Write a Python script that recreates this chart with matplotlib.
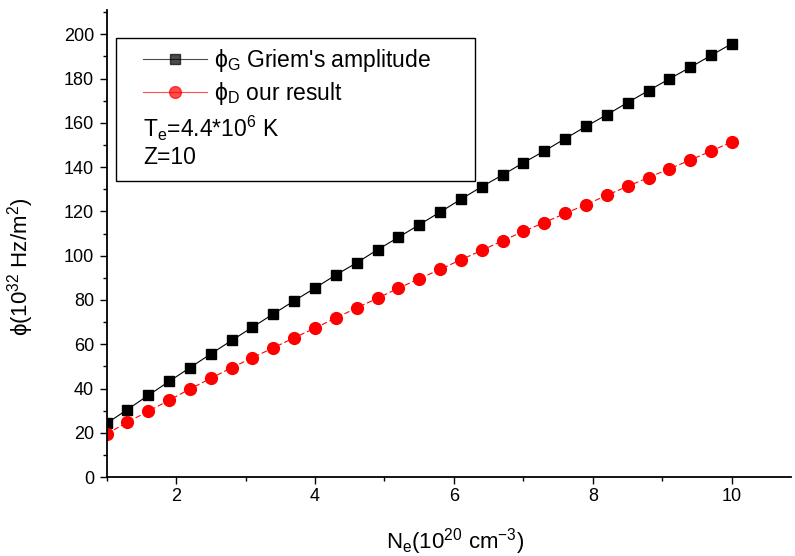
import matplotlib
matplotlib.use("Agg")
import matplotlib.pyplot as plt
from matplotlib.patches import Rectangle
from matplotlib.ticker import MultipleLocator

plt.rcParams['font.family'] = ['Liberation Sans', 'DejaVu Sans']
plt.rcParams['mathtext.fontset'] = 'custom'
plt.rcParams['mathtext.rm'] = 'Liberation Sans'
plt.rcParams['mathtext.it'] = 'Liberation Sans:italic'
plt.rcParams['mathtext.fallback'] = 'stixsans'

# Electron density (10^20 cm^-3)
ne = [1.0, 1.3, 1.6, 1.9, 2.2, 2.5, 2.8, 3.1, 3.4, 3.7, 4.0, 4.3, 4.6, 4.9,
      5.2, 5.5, 5.8, 6.1, 6.4, 6.7, 7.0, 7.3, 7.6, 7.9, 8.2, 8.5, 8.8, 9.1,
      9.4, 9.7, 10.0]
# Griem's amplitude (10^32 Hz/m^2)
phi_griem = [24.2, 30.5, 36.9, 43.2, 49.4, 55.6, 61.7, 67.7, 73.7, 79.6,
             85.4, 91.3, 96.8, 102.7, 108.3, 114.0, 119.7, 125.5, 131.2,
             136.5, 142.0, 147.3, 152.9, 158.4, 163.7, 169.2, 174.6, 179.9,
             185.1, 190.5, 195.8]
# Present calculation (10^32 Hz/m^2)
phi_ours = [19.4, 24.8, 29.7, 34.7, 39.8, 44.6, 49.4, 53.9, 58.4, 62.9,
            67.3, 71.9, 76.4, 80.8, 85.3, 89.6, 93.8, 98.2, 102.4, 106.8,
            111.0, 115.0, 119.1, 123.1, 127.3, 131.4, 135.3, 139.3, 143.2,
            147.3, 151.4]

fig = plt.figure(figsize=(7.95, 5.56), dpi=100)
ax = fig.add_axes([0.134, 0.142, 0.861, 0.840])

ax.plot(ne, phi_griem, color='black', lw=0.8, marker='s', ms=7.5,
        mec='black', mfc='black', label=r'$\mathregular{\phi_G}$ Griem' + "'s amplitude")
ax.plot(ne, phi_ours, color='red', lw=0.8, ls=(0, (5, 2.5)), marker='o', ms=8.5,
        mec='red', mfc='red', label=r'$\mathregular{\phi_D}$ our result')

ax.set_xlim(1, 10.85)
ax.set_ylim(0, 211)
ax.xaxis.set_major_locator(MultipleLocator(2))
ax.xaxis.set_minor_locator(MultipleLocator(1))
ax.yaxis.set_major_locator(MultipleLocator(20))
ax.yaxis.set_minor_locator(MultipleLocator(10))

for side in ('top', 'right'):
    ax.spines[side].set_visible(False)
for side in ('left', 'bottom'):
    ax.spines[side].set_linewidth(1.3)

ax.tick_params(which='both', direction='out', width=1.0, labelsize=13)
ax.tick_params(which='major', length=5)
ax.tick_params(which='minor', length=3)
ax.tick_params(axis='y', which='major', pad=4)
ax.tick_params(axis='x', which='major', pad=3)

ax.set_xlabel(r'$\mathregular{N_e(10^{20}\ cm^{-3})}$', fontsize=16)
ax.set_ylabel(r'$\mathregular{\phi(10^{32}\ Hz/m^2)}$', fontsize=16)
ax.xaxis.set_label_coords(0.509, -0.105)
ax.yaxis.set_label_coords(-0.103, 0.45)

# framed annotation box holding the legend and the plasma parameters
box = Rectangle((116 / 795, 1 - 181 / 556), (475 - 116) / 795, (181 - 38) / 556,
                transform=fig.transFigure, fill=False, edgecolor='black', lw=1.0, zorder=5)
fig.patches.append(box)

leg = ax.legend(loc='upper left', bbox_to_anchor=(143 / 795, 1 - 47 / 556),
                bbox_transform=fig.transFigure, frameon=False, fontsize=16.5,
                handlelength=2.8, handletextpad=0.3, labelspacing=0.25,
                borderaxespad=0, borderpad=0)
for h in leg.legend_handles:
    h.set_linestyle('-')
    h.set_alpha(0.7)

fig.text(143 / 795, 1 - 128 / 556, r'$\mathregular{T_e}$=4.4*10$^{\mathregular{6}}$ K',
         fontsize=16.5, va='center', ha='left')
fig.text(143 / 795, 1 - 158 / 556, 'Z=10', fontsize=16.5, va='center', ha='left')

fig.savefig('out.png', dpi=100)
